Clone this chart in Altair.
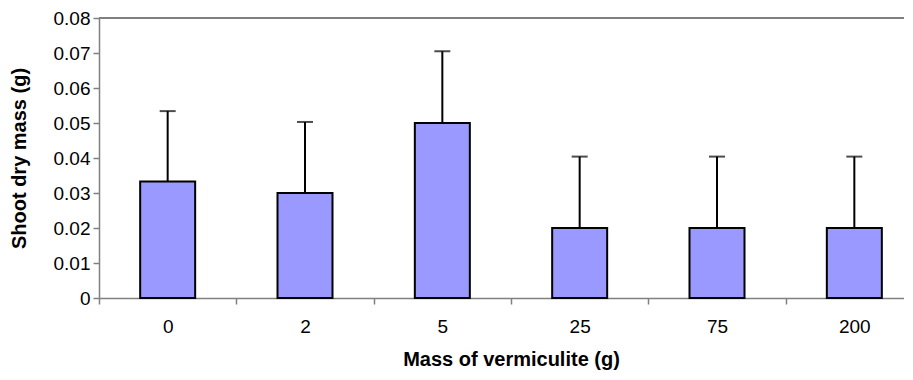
import altair as alt
import pandas as pd

categories = ["0", "2", "5", "25", "75", "200"]
means = [0.0333, 0.030, 0.050, 0.020, 0.020, 0.020]
errors = [0.0201, 0.0203, 0.0205, 0.0204, 0.0204, 0.0204]
y_ticks = [0, 0.01, 0.02, 0.03, 0.04, 0.05, 0.06, 0.07, 0.08]

df = pd.DataFrame({"cat": categories, "mean": means, "err": errors})
df["upper"] = df["mean"] + df["err"]

FONT = "Liberation Sans"
GRAY = "#808080"
LFS = 19
TFS = 20

x_scale = alt.Scale(range=[0, 824], paddingInner=0, paddingOuter=0)
y_scale = alt.Scale(domain=[0, 0.08], nice=False, zero=True)

x_axis = alt.Axis(
    title="Mass of vermiculite (g)", labelAngle=0, tickBand="extent",
    tickSize=6, tickColor=GRAY, domainColor=GRAY, domainWidth=1.5, tickWidth=1.5,
    labelFontSize=LFS, labelPadding=13, labelColor="black", labelFont=FONT,
    labelOverlap=False,
    titleFontSize=TFS, titleFont=FONT, titleFontWeight="bold", titleColor="black",
    titlePadding=13, grid=False,
)
y_axis = alt.Axis(
    title="Shoot dry mass (g)", values=y_ticks, format=".2~f",
    tickSize=6, tickColor=GRAY, domainColor=GRAY, domainWidth=1.5, tickWidth=1.5,
    labelFontSize=LFS, labelPadding=3, labelColor="black", labelFont=FONT,
    labelOverlap=False,
    titleFontSize=TFS, titleFont=FONT, titleFontWeight="bold", titleColor="black",
    titlePadding=24, grid=False,
)

X = alt.X("cat:N", sort=categories, scale=x_scale, axis=x_axis)

base = alt.Chart(df)

bars = base.mark_bar(size=55, color="#9999FF", stroke="black", strokeWidth=2).encode(
    x=X,
    y=alt.Y("mean:Q", scale=y_scale, axis=y_axis),
)

err = base.mark_rule(color="black", strokeWidth=2).encode(
    x=X,
    y=alt.Y("mean:Q", scale=y_scale, axis=y_axis),
    y2="upper:Q",
)

caps = base.mark_tick(color="black", size=16, thickness=2, orient="horizontal").encode(
    x=X,
    y=alt.Y("upper:Q", scale=y_scale, axis=y_axis),
)

top = alt.Chart(pd.DataFrame({"a": [0]})).mark_rule(color=GRAY, strokeWidth=2).encode(
    x=alt.value(0), x2=alt.value(824), y=alt.value(0)
)

chart = alt.layer(bars, err, caps, top).properties(
    width=805, height=280,
    autosize="none",
    padding={"left": 91, "top": 10, "right": 0, "bottom": 74},
).configure_view(stroke=None).configure(background="white")

chart.save("out.html", embed_options={"renderer": "svg", "actions": False})
